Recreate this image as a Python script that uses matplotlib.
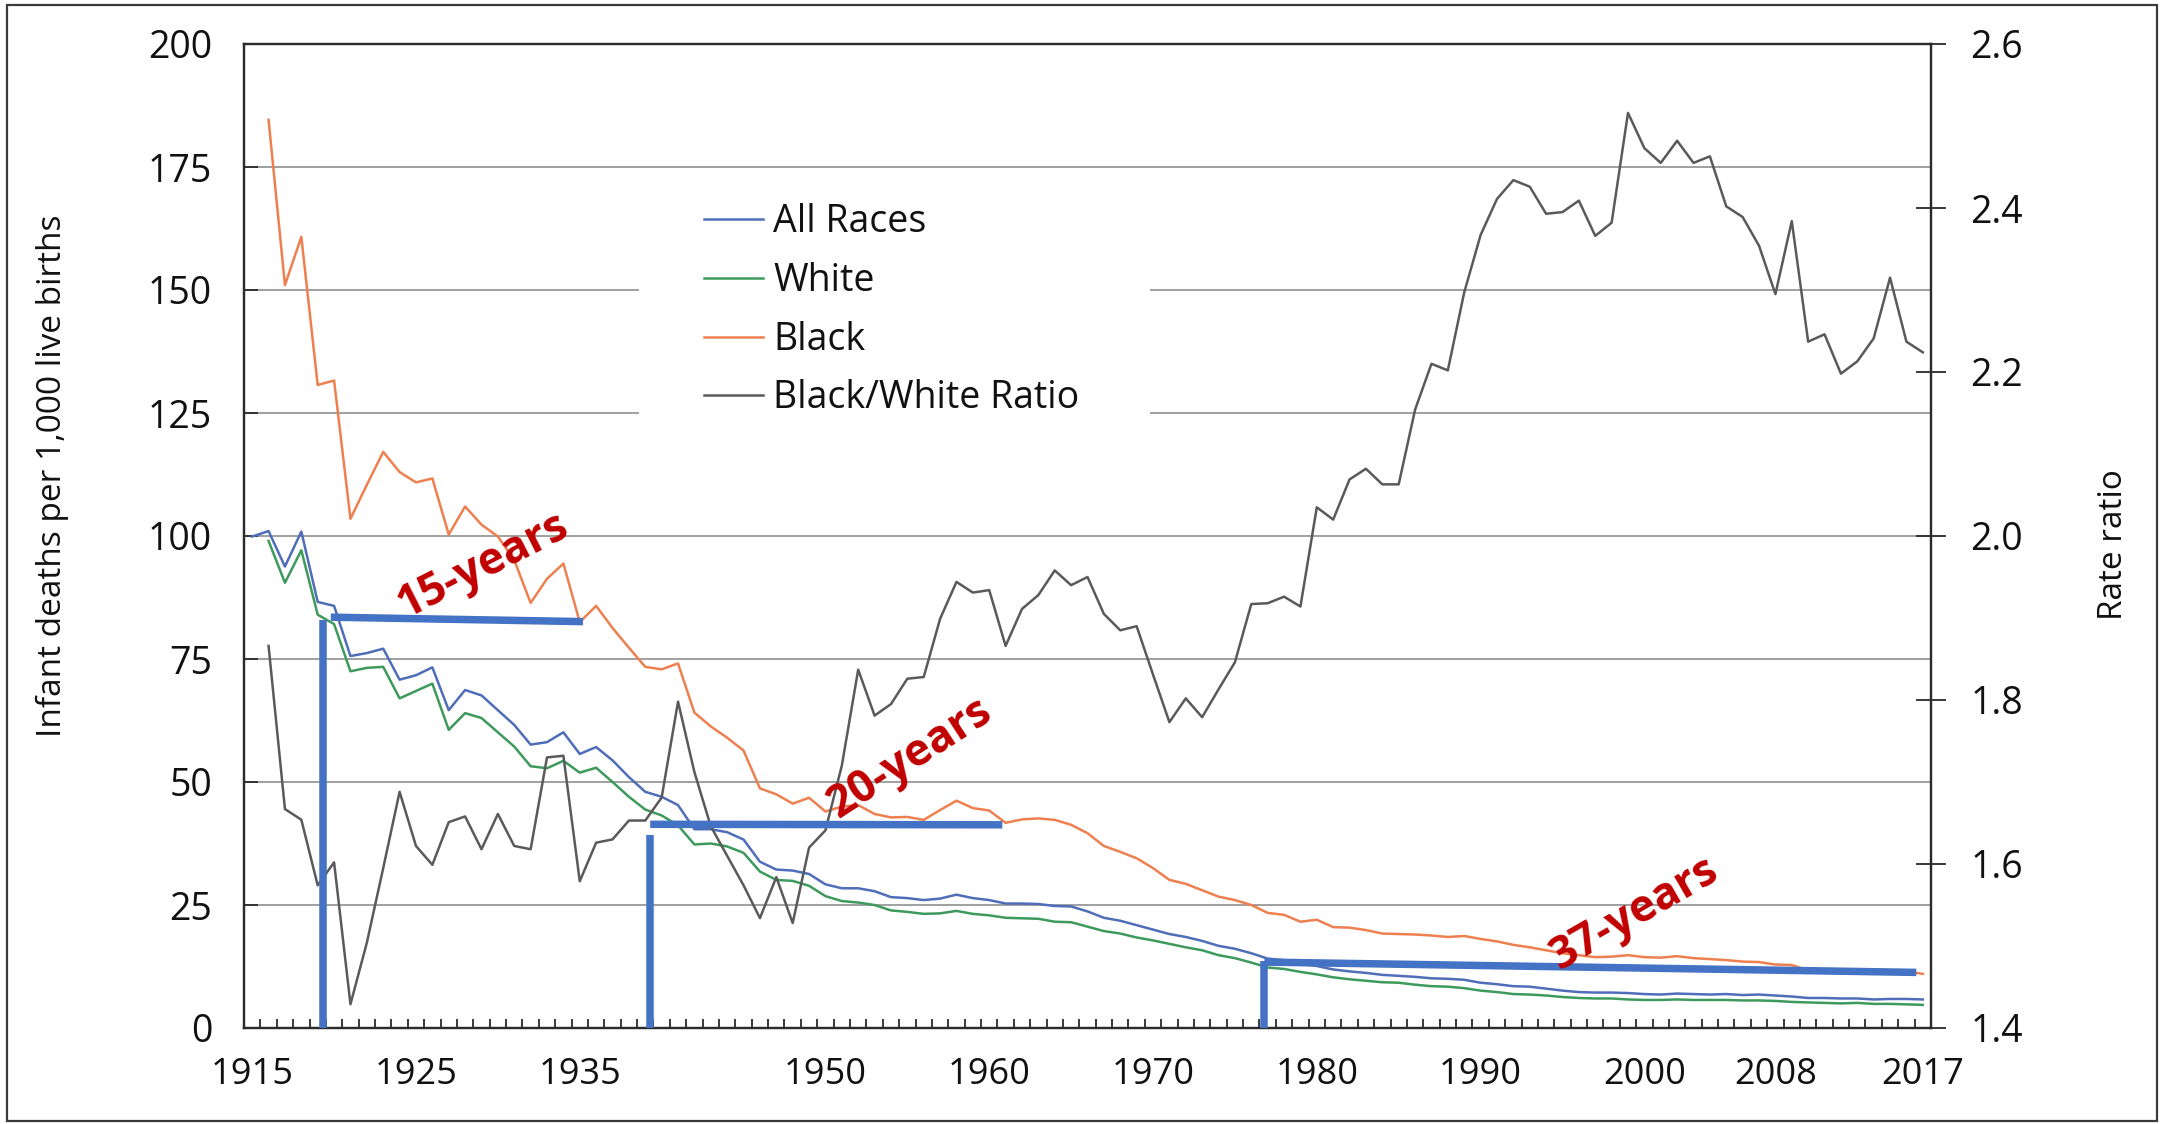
import matplotlib
matplotlib.use("Agg")
import matplotlib.pyplot as plt
import numpy as np
from matplotlib.lines import Line2D
from matplotlib.patches import Rectangle

plt.rcParams['font.family'] = ['Open Sans', 'DejaVu Sans']

# ---------------- data ----------------
years = list(range(1915, 2018))

all_races = [99.9, 101.0, 93.8, 100.9, 86.6, 85.8, 75.6, 76.2, 77.1, 70.8,
             71.7, 73.3, 64.6, 68.7, 67.6, 64.6, 61.6, 57.6, 58.1, 60.1,
             55.7, 57.1, 54.4, 51.0, 48.0, 47.0, 45.3, 40.4, 40.4, 39.8,
             38.3, 33.8, 32.2, 32.0, 31.3, 29.2, 28.4, 28.4, 27.8, 26.6,
             26.4, 26.0, 26.3, 27.1, 26.4, 26.0, 25.3, 25.3, 25.2, 24.8,
             24.7, 23.7, 22.4, 21.8, 20.9, 20.0, 19.1, 18.5, 17.7, 16.7,
             16.1, 15.2, 14.1, 13.8, 13.1, 12.6, 11.9, 11.5, 11.2, 10.8,
             10.6, 10.4, 10.1, 10.0, 9.8, 9.2, 8.9, 8.5, 8.4, 8.0,
             7.6, 7.3, 7.2, 7.2, 7.1, 6.9, 6.8, 7.0, 6.9, 6.8,
             6.9, 6.7, 6.8, 6.6, 6.4, 6.1, 6.1, 6.0, 6.0, 5.8,
             5.9, 5.9, 5.8]

white = [None, 99.0, 90.5, 97.1, 84.0, 82.1, 72.5, 73.2, 73.4, 67.0,
         68.5, 70.0, 60.6, 64.0, 63.0, 60.1, 57.2, 53.2, 52.8, 54.3,
         51.9, 52.9, 50.0, 47.0, 44.4, 43.2, 41.2, 37.3, 37.5, 36.9,
         35.6, 31.8, 30.1, 29.9, 28.9, 26.8, 25.8, 25.5, 25.0, 23.9,
         23.6, 23.2, 23.3, 23.8, 23.2, 22.9, 22.4, 22.3, 22.2, 21.6,
         21.5, 20.6, 19.7, 19.2, 18.4, 17.8, 17.1, 16.4, 15.8, 14.8,
         14.2, 13.3, 12.3, 12.0, 11.4, 10.9, 10.3, 9.9, 9.6, 9.3,
         9.2, 8.8, 8.5, 8.4, 8.1, 7.6, 7.3, 6.9, 6.8, 6.6,
         6.3, 6.1, 6.0, 6.0, 5.8, 5.7, 5.7, 5.8, 5.7, 5.7,
         5.7, 5.6, 5.6, 5.5, 5.3, 5.2, 5.1, 5.0, 5.1, 4.9,
         4.9, 4.8, 4.7]

black = [None, 184.6, 151.0, 160.8, 130.7, 131.6, 103.5, 110.4, 117.1, 113.0,
         110.9, 111.7, 100.3, 106.0, 102.3, 99.9, 95.1, 86.4, 91.3, 94.4,
         82.5, 85.8, 81.3, 77.3, 73.4, 72.9, 74.1, 64.1, 61.3, 59.0,
         56.4, 48.7, 47.5, 45.6, 46.8, 44.0, 45.0, 45.3, 43.5, 42.8,
         42.9, 42.3, 44.3, 46.2, 44.7, 44.2, 41.7, 42.4, 42.6, 42.3,
         41.3, 39.6, 37.0, 35.8, 34.5, 32.5, 30.1, 29.3, 28.0, 26.7,
         26.0, 25.0, 23.4, 23.0, 21.6, 22.0, 20.5, 20.4, 19.9, 19.2,
         19.1, 19.0, 18.8, 18.5, 18.7, 18.1, 17.6, 16.9, 16.4, 15.8,
         15.2, 14.8, 14.4, 14.5, 14.8, 14.4, 14.3, 14.6, 14.2, 14.0,
         13.8, 13.5, 13.4, 12.9, 12.8, 11.7, 11.7, 11.3, 11.2, 11.0,
         11.4, 11.5, 11.0]

ratio = [None, 1.866, 1.667, 1.654, 1.574, 1.602, 1.429, 1.504, 1.595, 1.688,
         1.622, 1.599, 1.651, 1.658, 1.618, 1.661, 1.622, 1.618, 1.730, 1.732,
         1.579, 1.626, 1.630, 1.653, 1.653, 1.681, 1.798, 1.712, 1.646, 1.610,
         1.574, 1.534, 1.584, 1.528, 1.620, 1.641, 1.720, 1.837, 1.781, 1.795,
         1.826, 1.828, 1.899, 1.944, 1.931, 1.934, 1.866, 1.911, 1.928, 1.958,
         1.940, 1.950, 1.905, 1.885, 1.890, 1.831, 1.773, 1.802, 1.779, 1.813,
         1.846, 1.917, 1.918, 1.926, 1.914, 2.035, 2.020, 2.069, 2.082, 2.063,
         2.063, 2.154, 2.210, 2.202, 2.297, 2.367, 2.411, 2.434, 2.426, 2.393,
         2.395, 2.409, 2.366, 2.382, 2.516, 2.473, 2.455, 2.482, 2.455, 2.463,
         2.402, 2.389, 2.354, 2.295, 2.384, 2.237, 2.246, 2.198, 2.213, 2.241,
         2.315, 2.237, 2.224]

series_labels = ["All Races", "White", "Black", "Black/White Ratio"]

x_tick_labels = ["1915", "1925", "1935", "1950", "1960", "1970",
                 "1980", "1990", "2000", "2008", "2017"]
left_ticks = [0, 25, 50, 75, 100, 125, 150, 175, 200]
right_ticks = [1.4, 1.6, 1.8, 2.0, 2.2, 2.4, 2.6]

# gap annotations (years / infant death rate levels)
gap_labels = ["15-years", "20-years", "37-years"]
gap_vert_x = [1919.3, 1939.3, 1976.8]
gap_vert_top = [82.9, 39.2, 13.6]
gap_h_x0 = [1919.8, 1939.3, 1976.8]
gap_h_x1 = [1935.2, 1960.8, 2016.6]
gap_h_y0 = [83.5, 41.4, 13.4]
gap_h_y1 = [82.6, 41.3, 11.3]
gap_text_x = [1929.1, 1955.2, 1999.4]
gap_text_y = [93.9, 54.7, 23.2]
gap_text_angle = [27, 33, 30]

# ---------------- styling ----------------
c_all = '#4F6DB8'
c_white = '#3E9A5C'
c_black = '#EE8050'
c_ratio = '#5A5A5A'
c_bar = '#4472C4'
c_txt = '#C00000'
spine_c = '#2b2b2b'

yrs = np.array(years, dtype=float)
a_all = np.array(all_races, dtype=float)
a_white = np.array([np.nan if v is None else v for v in white], dtype=float)
a_black = np.array([np.nan if v is None else v for v in black], dtype=float)
a_ratio = np.array([np.nan if v is None else v for v in ratio], dtype=float)

W, H = 2164, 1124
fig = plt.figure(figsize=(W / 100, H / 100), dpi=100)
ax = fig.add_axes([244 / W, 1 - 1028 / H, (1931 - 244) / W, (1028 - 44) / H])
ax2 = ax.twinx()

lw = 1.8
ax.plot(yrs, a_all, color=c_all, lw=lw, zorder=3)
ax.plot(yrs, a_white, color=c_white, lw=lw, zorder=3)
ax.plot(yrs, a_black, color=c_black, lw=lw, zorder=3)
ax2.plot(yrs, a_ratio, color=c_ratio, lw=lw, zorder=2)

ax.set_xlim(1914.5, 2017.5)
ax.set_ylim(0, 200)
ax2.set_ylim(1.4, 2.6)

ax.set_axisbelow(True)
ax.set_yticks(left_ticks)
ax.set_yticklabels([str(v) for v in left_ticks])
ax.yaxis.grid(True, color='#a0a0a0', lw=1.4)
ax.xaxis.grid(False)

# white legend background covering gridlines
ax.add_patch(Rectangle((639 / W, 1 - 432 / H), (1150 - 639) / W, (432 - 180) / H,
                       transform=fig.transFigure, facecolor='white',
                       edgecolor='none', zorder=1))

ax.set_xticks([int(t) for t in x_tick_labels])
ax.set_xticklabels(x_tick_labels)
ax.set_xticks(np.arange(1915.5, 2017.0, 1.0), minor=True)
ax.tick_params(axis='x', which='major', length=0, labelsize=26, pad=21,
               colors='#111111')
ax.tick_params(axis='x', which='minor', direction='in', length=6.5, width=1.3,
               color=spine_c)
ax.tick_params(axis='y', which='major', direction='in', length=10, width=1.3,
               labelsize=27, pad=23, color=spine_c, labelcolor='#111111')

ax2.set_yticks(right_ticks)
ax2.set_yticklabels([f"{v:.1f}" for v in right_ticks])
ax2.tick_params(axis='y', which='major', direction='inout', length=21,
                width=1.3, labelsize=27, pad=18, color=spine_c,
                labelcolor='#111111')

for a in (ax, ax2):
    for s in a.spines.values():
        s.set_color(spine_c)
        s.set_linewidth(1.6)

fig.text(52 / W, 1 - 476 / H, "Infant deaths per 1,000 live births",
         rotation=90, ha='center', va='center', fontsize=24, color='#111111')
fig.text(2114 / W, 1 - 545 / H, "Rate ratio", rotation=90, ha='center',
         va='center', fontsize=24, color='#111111')

# gap annotations (drawn on top axes but in left-axis data coordinates)
for i in range(len(gap_labels)):
    ax2.plot([gap_vert_x[i], gap_vert_x[i]], [0, gap_vert_top[i]],
             transform=ax.transData, color=c_bar, lw=5.4,
             solid_capstyle='butt', zorder=5, clip_on=False)
    ax2.plot([gap_h_x0[i], gap_h_x1[i]], [gap_h_y0[i], gap_h_y1[i]],
             transform=ax.transData, color=c_bar, lw=5.4,
             solid_capstyle='butt', zorder=5)
    ax2.text(gap_text_x[i], gap_text_y[i], gap_labels[i],
             transform=ax.transData, rotation=gap_text_angle[i],
             rotation_mode='anchor', ha='center', va='center',
             fontsize=32, fontweight='bold', color=c_txt, zorder=6)

handles = [Line2D([], [], color=c, lw=lw) for c in (c_all, c_white, c_black, c_ratio)]
leg = ax2.legend(handles, series_labels, loc='upper left',
                 bbox_to_anchor=(704 / W, 1 - 203.5 / H),
                 bbox_transform=fig.transFigure, frameon=False, fontsize=27,
                 handlelength=1.57, handletextpad=0.27, labelspacing=0.55,
                 borderpad=0, borderaxespad=0)
for t in leg.get_texts():
    t.set_color('#111111')
leg.set_zorder(7)

# outer frame
fig.add_artist(Rectangle((7 / W, 3 / H), (2157 - 7) / W, (1119 - 3) / H,
                         transform=fig.transFigure, fill=False,
                         edgecolor='#3a3a3a', lw=1.6))

fig.savefig("out.png", dpi=100)
